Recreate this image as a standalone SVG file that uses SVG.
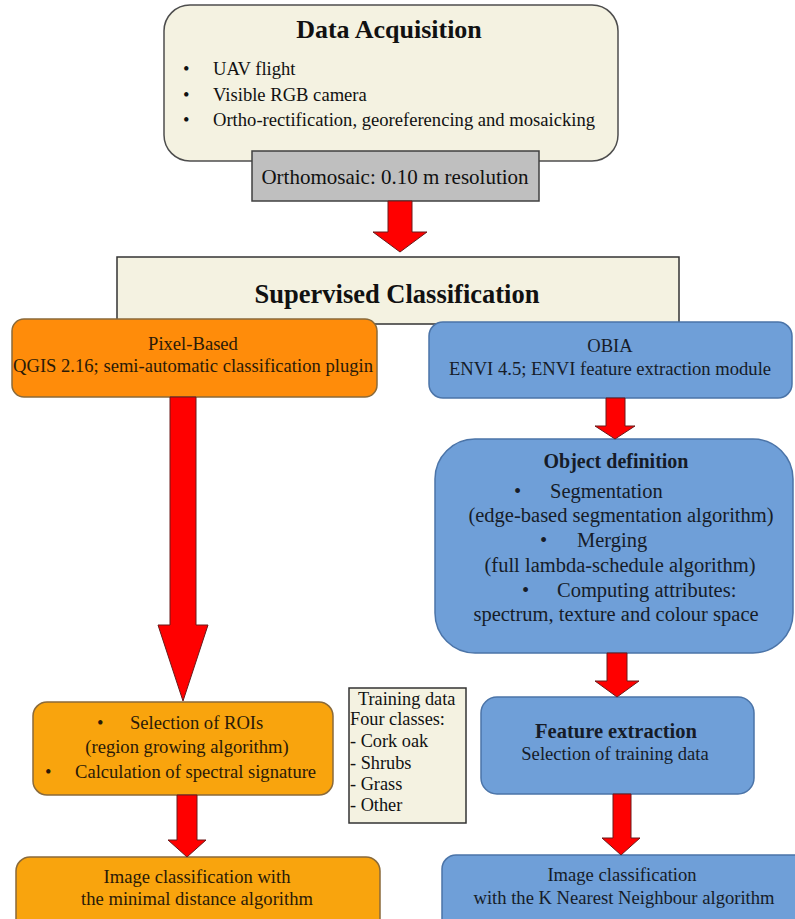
<svg xmlns="http://www.w3.org/2000/svg" width="795" height="919" viewBox="0 0 795 919">
<style>
text{font-family:"Liberation Serif","Times New Roman",serif;font-size:18.6px;}
.c{text-anchor:middle;}
.b{font-weight:bold;}
.od{font-size:20.5px;}
.beige{fill:#f4f2e1;stroke:#4d4d4d;stroke-width:1.5;}
.gray{fill:#bfbfbf;stroke:#404040;stroke-width:1.5;}
.org1{fill:#ff8c0a;stroke:#8a6a3a;stroke-width:1.5;}
.org2{fill:#f9a40d;stroke:#8a6a3a;stroke-width:1.5;}
.blue{fill:#6f9fd8;stroke:#4b74a8;stroke-width:1.5;}
.arr{fill:#ff0000;stroke:#6a1a1a;stroke-width:1;}
.ot{fill:#2a1a08;}
.bt{fill:#161c28;}
.kt{fill:#111;}
</style>
<rect width="795" height="919" fill="#ffffff"/>

<g id="data-acquisition">
<rect class="beige" x="164" y="5" width="454" height="156" rx="26"/>
<text class="c b kt" x="389" y="38" style="font-size:26px">Data Acquisition</text>
<text class="kt" x="183" y="75">•</text><text class="kt" x="213" y="75">UAV flight</text>
<text class="kt" x="183" y="101">•</text><text class="kt" x="213" y="101">Visible RGB camera</text>
<text class="kt" x="183" y="126">•</text><text class="kt" x="213" y="126">Ortho-rectification, georeferencing and mosaicking</text>
</g>

<g id="orthomosaic">
<rect class="gray" x="252" y="151" width="287" height="50"/>
<text class="c kt" x="395" y="184" style="font-size:21px">Orthomosaic: 0.10 m resolution</text>
</g>

<g id="supervised-classification">
<rect class="beige" x="117" y="257" width="562" height="67" style="stroke:#333"/>
<text class="c b kt" x="397" y="303" style="font-size:26.5px">Supervised Classification</text>
</g>

<g id="pixel-based">
<rect class="org1" x="12" y="319" width="365" height="78" rx="12"/>
<text class="c ot" x="193" y="350">Pixel-Based</text>
<text class="c ot" x="193" y="372">QGIS 2.16; semi-automatic classification plugin</text>
</g>

<g id="obia">
<rect class="blue" x="429" y="322" width="363" height="76" rx="14"/>
<text class="c bt" x="610" y="352">OBIA</text>
<text class="c bt" x="610" y="375">ENVI 4.5; ENVI feature extraction module</text>
</g>

<g id="object-definition">
<rect class="blue" x="435" y="439" width="358" height="214" rx="40"/>
<text class="c b bt" x="616" y="468" style="font-size:20px">Object definition</text>
<text class="bt od" x="514" y="498">•</text><text class="bt od" x="550" y="498">Segmentation</text>
<text class="c bt od" x="621" y="522">(edge-based segmentation algorithm)</text>
<text class="bt od" x="540" y="547">•</text><text class="bt od" x="577" y="547">Merging</text>
<text class="c bt od" x="620" y="572">(full lambda-schedule algorithm)</text>
<text class="bt od" x="522" y="597">•</text><text class="bt od" x="557" y="597">Computing attributes:</text>
<text class="c bt od" x="616" y="621">spectrum, texture and colour space</text>
</g>

<g id="feature-extraction">
<rect class="blue" x="481" y="697" width="273" height="97" rx="16"/>
<text class="c b bt" x="616" y="738" style="font-size:20.5px">Feature extraction</text>
<text class="c bt" x="615" y="760">Selection of training data</text>
</g>

<g id="knn-classification">
<rect class="blue" x="442" y="855" width="370" height="80" rx="14"/>
<text class="c bt" x="622" y="881">Image classification</text>
<text class="c bt" x="624" y="904">with the K Nearest Neighbour algorithm</text>
</g>

<g id="roi-selection">
<rect class="org2" x="33" y="702" width="300" height="93" rx="14"/>
<text class="ot" x="97" y="729">•</text><text class="ot" x="130" y="729">Selection of ROIs</text>
<text class="c ot" x="187" y="753">(region growing algorithm)</text>
<text class="ot" x="45" y="778">•</text><text class="ot" x="75" y="778">Calculation of spectral signature</text>
</g>

<g id="minimal-distance">
<rect class="org2" x="16" y="857" width="364" height="80" rx="14"/>
<text class="c ot" x="197" y="883">Image classification with</text>
<text class="c ot" x="197" y="905">the minimal distance algorithm</text>
</g>

<g id="training-data">
<rect class="beige" x="349" y="688" width="117" height="135" style="stroke:#333"/>
<text class="kt" x="358" y="705" style="font-size:18.3px">Training data</text>
<text class="kt" x="350" y="725" style="font-size:18.3px">Four classes:</text>
<text class="kt" x="350" y="747" style="font-size:18.3px">- Cork oak</text>
<text class="kt" x="350" y="769" style="font-size:18.3px">- Shrubs</text>
<text class="kt" x="350" y="790" style="font-size:18.3px">- Grass</text>
<text class="kt" x="350" y="811" style="font-size:18.3px">- Other</text>
</g>

<g id="connectors">
<path class="arr" d="M388,201 H412 V232 H427 L400,252 L373,232 H388 Z"/>
<path class="arr" d="M170,397 H196 V625 H208 L183,701 L158,625 H170 Z"/>
<path class="arr" d="M606,398 H625 V426 H635 L615,439 L595,426 H606 Z"/>
<path class="arr" d="M607,653 H627 V681 H639 L617,697 L595,681 H607 Z"/>
<path class="arr" d="M177,795 H197 V840 H206 L187,857 L168,840 H177 Z"/>
<path class="arr" d="M613,794 H631 V838 H640 L621,855 L602,838 H613 Z"/>
</g>
</svg>
